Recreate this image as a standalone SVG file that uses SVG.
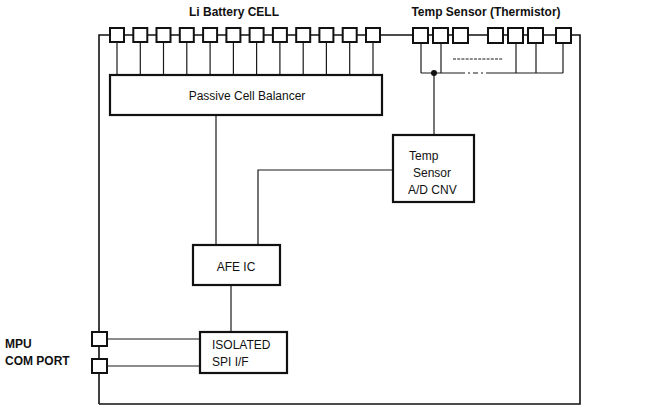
<svg xmlns="http://www.w3.org/2000/svg" width="650" height="410" viewBox="0 0 650 410">
<style>
.frame{fill:none;stroke:#111;stroke-width:1.6}
.box{fill:#fff;stroke:#111;stroke-width:2.2}
.cell{fill:#fff;stroke:#111;stroke-width:2}
.wire{fill:none;stroke:#1a1a1a;stroke-width:1.2}
.t{font-family:"Liberation Sans",Arial,sans-serif;font-size:12px;fill:#111}
.b{font-family:"Liberation Sans",Arial,sans-serif;font-size:12px;font-weight:bold;fill:#111}
</style>
<rect width="650" height="410" fill="#fff"/>
<g id="titles">
<text class="b" x="234" y="16" text-anchor="middle">Li Battery CELL</text>
<text class="b" x="486" y="16" text-anchor="middle">Temp Sensor (Thermistor)</text>
<text class="b" x="5" y="348">MPU</text>
<text class="b" x="5" y="365">COM PORT</text>
</g>
<g id="connectors">
<polyline class="frame" points="99,404 99,35 580,35 580,404 99,404"/>
<g class="wire">
<line x1="117" y1="42" x2="117" y2="75"/>
<line x1="140.3" y1="42" x2="140.3" y2="75"/>
<line x1="163.5" y1="42" x2="163.5" y2="75"/>
<line x1="186.8" y1="42" x2="186.8" y2="75"/>
<line x1="210.1" y1="42" x2="210.1" y2="75"/>
<line x1="233.4" y1="42" x2="233.4" y2="75"/>
<line x1="256.6" y1="42" x2="256.6" y2="75"/>
<line x1="279.9" y1="42" x2="279.9" y2="75"/>
<line x1="303.2" y1="42" x2="303.2" y2="75"/>
<line x1="326.4" y1="42" x2="326.4" y2="75"/>
<line x1="349.7" y1="42" x2="349.7" y2="75"/>
<line x1="373" y1="42" x2="373" y2="75"/>
<line x1="421" y1="43" x2="421" y2="73"/>
<line x1="441" y1="43" x2="441" y2="73"/>
<line x1="516" y1="43" x2="516" y2="73"/>
<line x1="536" y1="43" x2="536" y2="73"/>
<line x1="563" y1="43" x2="563" y2="73"/>
<line x1="421" y1="73" x2="460" y2="73"/>
<line x1="460" y1="73" x2="488" y2="73" stroke-dasharray="5,3,2,3"/>
<line x1="488" y1="73" x2="563" y2="73"/>
<line x1="453" y1="59" x2="503" y2="59" stroke-dasharray="3,1.2" stroke-width="1"/>
<line x1="434" y1="73" x2="434" y2="135"/>
<line x1="216" y1="115" x2="216" y2="245"/>
<polyline points="393,170 258,170 258,245"/>
<line x1="231" y1="285" x2="231" y2="332"/>
<line x1="107" y1="339" x2="200" y2="339"/>
<line x1="107" y1="366" x2="200" y2="366"/>
</g>
<circle cx="434" cy="73" r="3" fill="#111"/>
</g>
<g id="battery-cells">
<rect class="cell" x="110" y="28" width="14" height="14"/>
<rect class="cell" x="133.3" y="28" width="14" height="14"/>
<rect class="cell" x="156.5" y="28" width="14" height="14"/>
<rect class="cell" x="179.8" y="28" width="14" height="14"/>
<rect class="cell" x="203.1" y="28" width="14" height="14"/>
<rect class="cell" x="226.4" y="28" width="14" height="14"/>
<rect class="cell" x="249.6" y="28" width="14" height="14"/>
<rect class="cell" x="272.9" y="28" width="14" height="14"/>
<rect class="cell" x="296.2" y="28" width="14" height="14"/>
<rect class="cell" x="319.4" y="28" width="14" height="14"/>
<rect class="cell" x="342.7" y="28" width="14" height="14"/>
<rect class="cell" x="366" y="28" width="14" height="14"/>
</g>
<g id="thermistors">
<rect class="cell" x="413" y="28" width="15" height="15"/>
<rect class="cell" x="433" y="28" width="15" height="15"/>
<rect class="cell" x="453" y="28" width="15" height="15"/>
<rect class="cell" x="488" y="28" width="15" height="15"/>
<rect class="cell" x="508" y="28" width="15" height="15"/>
<rect class="cell" x="528" y="28" width="15" height="15"/>
<rect class="cell" x="556" y="28" width="15" height="15"/>
</g>
<g id="passive-cell-balancer">
<rect class="box" x="110" y="75" width="272" height="40"/>
<text class="t" x="247" y="100" text-anchor="middle">Passive Cell Balancer</text>
</g>
<g id="temp-sensor-adc">
<rect class="box" x="393" y="135" width="81" height="67"/>
<text class="t" x="409" y="160" font-size="12.5">Temp</text>
<text class="t" x="413" y="177" font-size="12.5">Sensor</text>
<text class="t" x="408" y="194" font-size="12.5">A/D CNV</text>
</g>
<g id="afe-ic">
<rect class="box" x="193" y="245" width="87" height="40"/>
<text class="t" x="236" y="271" text-anchor="middle">AFE IC</text>
</g>
<g id="isolated-spi">
<rect class="box" x="200" y="332" width="87" height="41"/>
<text class="t" x="212" y="349">ISOLATED</text>
<text class="t" x="212" y="366">SPI I/F</text>
</g>
<g id="mpu-ports">
<rect class="cell" x="92" y="332" width="15" height="14"/>
<rect class="cell" x="92" y="359" width="15" height="14"/>
</g>
</svg>
